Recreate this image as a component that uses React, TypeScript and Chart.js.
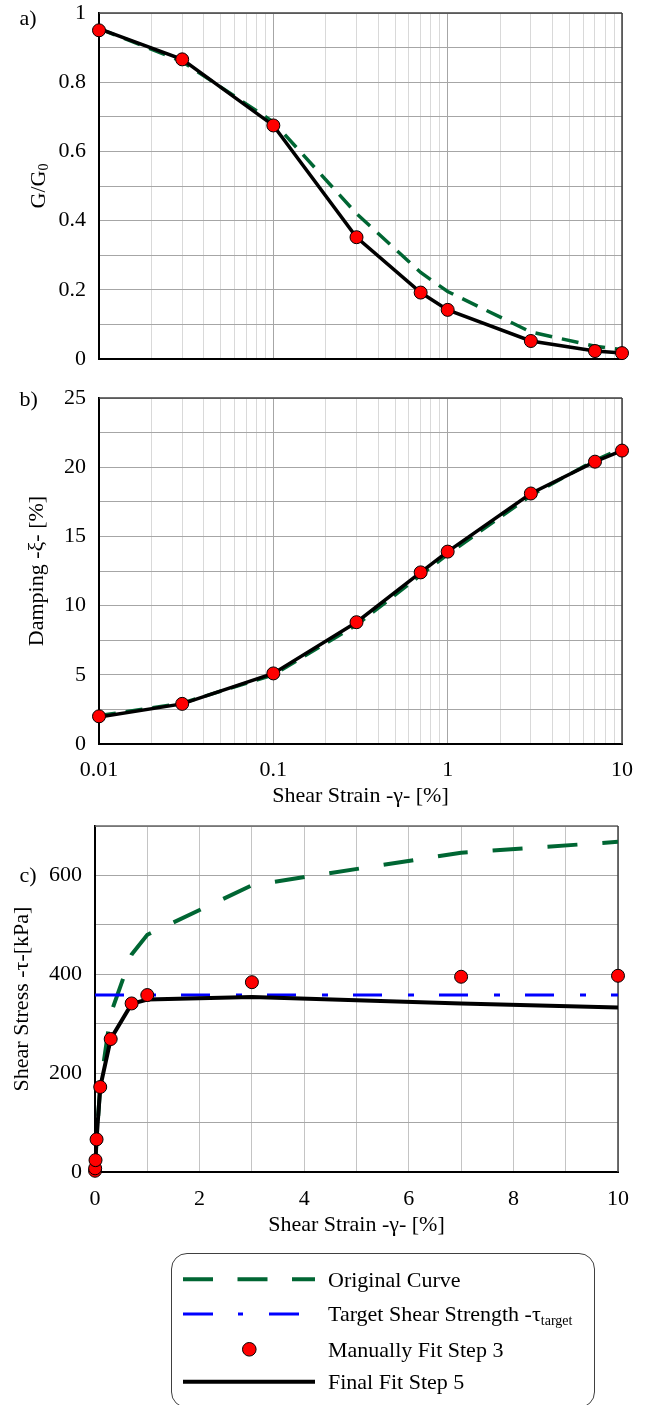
import React, { useEffect, useRef } from 'react';
import { Chart, registerables } from 'chart.js';

Chart.register(...registerables);

// ---- data -------------------------------------------------------------
// shear strain [%] at which the curves are defined
const strain = [0.01, 0.03, 0.1, 0.3, 0.7, 1, 3, 7, 10];

// a) modulus reduction G/G0
const originalModulus = [0.955, 0.86, 0.685, 0.42, 0.25, 0.195, 0.078, 0.037, 0.027];
const manualModulus = [0.95, 0.866, 0.675, 0.352, 0.192, 0.142, 0.052, 0.023, 0.017];
const finalModulus = [0.955, 0.866, 0.675, 0.352, 0.192, 0.142, 0.052, 0.023, 0.017];

// b) damping [%]
const originalDamping = [2.05, 2.95, 5.0, 8.6, 12.2, 13.7, 17.95, 20.5, 21.35];
const manualDamping = [2.0, 2.9, 5.1, 8.8, 12.4, 13.9, 18.1, 20.4, 21.2];
const finalDamping = [1.95, 2.9, 5.1, 8.8, 12.4, 13.9, 18.1, 20.4, 21.2];

// c) shear stress [kPa]
const stressStrain = [0.001, 0.003, 0.01, 0.03, 0.1, 0.3, 0.7, 1, 3, 7, 10];
const originalStress = [2.5, 7.5, 24, 65, 173, 320, 440, 480, 580, 646, 668];
const manualStress = [2.5, 7.5, 24, 66, 172, 269, 341, 358, 384, 395, 397];
const finalStress = [2.5, 7.5, 24, 66, 172, 269, 340, 349, 354, 341, 333];
const targetStrength = 358;
const targetStrainRange = [0, 10];

// axis ticks
const strainDecades = [0.01, 0.1, 1, 10];
const decadeMultipliers = [1, 2, 3, 4, 5, 6, 7, 8, 9];

// ---- styles -----------------------------------------------------------
const FONT = "'Liberation Serif', 'Times New Roman', serif";
const GREEN = '#006633';
const BLUE = '#0000ff';
const RED = '#ff0000';
const GRID_MAJOR = '#a6a6a6';
const GRID_MINOR = '#d9d9d9';
const FRAME = '#404040';

Chart.defaults.font.family = FONT;
Chart.defaults.font.size = 22;
Chart.defaults.color = '#000';

const logTickValues: number[] = [];
for (let i = 0; i < strainDecades.length - 1; i++) {
  for (const m of decadeMultipliers) {
    logTickValues.push(Number((m * strainDecades[i]).toPrecision(6)));
  }
}
logTickValues.push(strainDecades[strainDecades.length - 1]);

const pairs = (xs: number[], ys: number[]) => xs.map((x, i) => ({ x, y: ys[i] }));

type Part = { text: string; size: number; dy?: number };
type Note = { x: number; y: number; parts: Part[]; rotate?: number; center?: boolean };

// draws free text (panel letters, subscripted titles)
const notesPlugin = (items: Note[]) => ({
  id: 'notes',
  afterDraw(chart: any) {
    const ctx = chart.ctx;
    for (const item of items) {
      ctx.save();
      ctx.translate(item.x, item.y);
      if (item.rotate) ctx.rotate(item.rotate);
      ctx.fillStyle = '#000';
      ctx.textBaseline = 'alphabetic';
      ctx.textAlign = 'left';
      let total = 0;
      for (const p of item.parts) {
        ctx.font = `${p.size}px ${FONT}`;
        total += ctx.measureText(p.text).width;
      }
      let dx = item.center ? -total / 2 : 0;
      for (const p of item.parts) {
        ctx.font = `${p.size}px ${FONT}`;
        ctx.fillText(p.text, dx, p.dy || 0);
        dx += ctx.measureText(p.text).width;
      }
      ctx.restore();
    }
  },
});

// top and right edges of the plot frame
const framePlugin = (topColor: string, rightColor: string) => ({
  id: 'frame',
  beforeDatasetsDraw(chart: any) {
    const { ctx, chartArea } = chart;
    const { left, top, right, bottom } = chartArea;
    ctx.save();
    ctx.lineWidth = 1.5;
    ctx.strokeStyle = topColor;
    ctx.beginPath();
    ctx.moveTo(left, top);
    ctx.lineTo(right, top);
    ctx.stroke();
    ctx.strokeStyle = rightColor;
    ctx.beginPath();
    ctx.moveTo(right, top);
    ctx.lineTo(right, bottom);
    ctx.stroke();
    ctx.restore();
  },
});

// fixed axis box sizes; the plot area is laid out by the layout padding alone
const fixHeight = (h: number) => (s: any) => {
  s.height = h;
  s.paddingLeft = 0;
  s.paddingRight = 0;
};
const fixWidth = (w: number) => (s: any) => {
  s.width = w;
  s.paddingTop = 0;
  s.paddingBottom = 0;
};

const markerSet = (data: { x: number; y: number }[], r: number) => ({
  data,
  showLine: false,
  pointRadius: r,
  pointBackgroundColor: RED,
  pointBorderColor: '#000',
  pointBorderWidth: 1,
  clip: false as const,
});

const lineSet = (data: { x: number; y: number }[], color: string, width: number, dash: number[] = []) => ({
  data,
  showLine: true,
  borderColor: color,
  borderWidth: width,
  borderDash: dash,
  pointRadius: 0,
  fill: false,
  tension: 0,
});

const isDecade = (v: number) => Math.abs(Math.log10(v) - Math.round(Math.log10(v))) < 1e-9;

const strainAxis = (showLabels: boolean, axisHeight: number, titlePadBottom: number) => ({
  type: 'logarithmic' as const,
  min: strainDecades[0],
  max: strainDecades[strainDecades.length - 1],
  afterBuildTicks: (s: any) => {
    s.ticks = logTickValues.map((value) => ({ value }));
  },
  afterFit: fixHeight(axisHeight),
  grid: {
    color: (c: any) => (c.tick && isDecade(c.tick.value) ? GRID_MAJOR : GRID_MINOR),
    drawTicks: false,
    lineWidth: 1,
  },
  border: { color: '#000', width: 2 },
  ticks: {
    display: showLabels,
    autoSkip: false,
    maxRotation: 0,
    minRotation: 0,
    padding: 13,
    callback: (v: any) => (strainDecades.some((d) => Math.abs(d - Number(v)) < 1e-12) ? String(v) : ''),
  },
  title: {
    display: showLabels,
    text: 'Shear Strain -γ- [%]',
    padding: { top: 0, bottom: titlePadBottom },
  },
});

const baseOptions = (padding: any) => ({
  animation: false as const,
  responsive: false,
  devicePixelRatio: 1,
  events: [] as any[],
  layout: { padding },
  plugins: { legend: { display: false }, tooltip: { enabled: false } },
});

export default function App() {
  const refA = useRef<HTMLCanvasElement>(null);
  const refB = useRef<HTMLCanvasElement>(null);
  const refC = useRef<HTMLCanvasElement>(null);

  useEffect(() => {
    document.body.style.margin = '0';

    const chartA = new Chart(refA.current as HTMLCanvasElement, {
      type: 'scatter',
      data: {
        datasets: [
          markerSet(pairs(strain, manualModulus), 6.5),
          lineSet(pairs(strain, finalModulus), '#000', 3.5),
          lineSet(pairs(strain, originalModulus), GREEN, 3.5, [17, 10]),
        ],
      },
      options: {
        ...baseOptions({ left: 0, right: 28, top: 13, bottom: 0 }),
        scales: {
          x: strainAxis(false, 21, 0),
          y: {
            min: 0,
            max: 1,
            afterFit: fixWidth(99),
            grid: { color: GRID_MAJOR, drawTicks: false },
            border: { color: '#000', width: 2 },
            ticks: {
              stepSize: 0.1,
              padding: 13,
              callback: (v: any) => {
                const n = Math.round(Number(v) * 10);
                return n % 2 === 0 ? String(n / 10) : '';
              },
            },
          },
        },
      } as any,
      plugins: [
        framePlugin(FRAME, FRAME),
        notesPlugin([
          { x: 19.5, y: 25, parts: [{ text: 'a)', size: 22 }] },
          {
            x: 45,
            y: 186,
            rotate: -Math.PI / 2,
            center: true,
            parts: [
              { text: 'G/G', size: 22 },
              { text: '0', size: 14, dy: 3 },
            ],
          },
        ]),
      ],
    });

    const chartB = new Chart(refB.current as HTMLCanvasElement, {
      type: 'scatter',
      data: {
        datasets: [
          markerSet(pairs(strain, manualDamping), 6.5),
          lineSet(pairs(strain, finalDamping), '#000', 3.5),
          lineSet(pairs(strain, originalDamping), GREEN, 3.5, [17, 10]),
        ],
      },
      options: {
        ...baseOptions({ left: 0, right: 28, top: 18, bottom: 0 }),
        scales: {
          x: strainAxis(true, 76, 10.8),
          y: {
            min: 0,
            max: 25,
            afterFit: fixWidth(99),
            grid: { color: GRID_MAJOR, drawTicks: false },
            border: { color: '#000', width: 2 },
            ticks: {
              stepSize: 2.5,
              padding: 13,
              callback: (v: any) => (Number(v) % 5 === 0 ? String(v) : ''),
            },
            title: {
              display: true,
              text: 'Damping -ξ- [%]',
              padding: { top: 24, bottom: 0 },
            },
          },
        },
      } as any,
      plugins: [framePlugin(FRAME, FRAME), notesPlugin([{ x: 19.5, y: 26, parts: [{ text: 'b)', size: 22 }] }])],
    });

    const chartC = new Chart(refC.current as HTMLCanvasElement, {
      type: 'scatter',
      data: {
        datasets: [
          markerSet(pairs(stressStrain, manualStress), 6.5),
          lineSet(pairs(stressStrain, finalStress), '#000', 4),
          lineSet(
            targetStrainRange.map((x) => ({ x, y: targetStrength })),
            BLUE,
            3,
            [29, 26, 6, 25]
          ),
          lineSet(pairs(stressStrain, originalStress), GREEN, 4, [30, 25]),
        ],
      },
      options: {
        ...baseOptions({ left: 0, right: 32, top: 26, bottom: 0 }),
        scales: {
          x: {
            type: 'linear',
            min: 0,
            max: 10,
            afterFit: fixHeight(78),
            grid: { color: '#c4c4c4', drawTicks: false },
            border: { color: '#000', width: 2 },
            ticks: {
              stepSize: 1,
              padding: 13.8,
              maxRotation: 0,
              autoSkip: false,
              callback: (v: any) => (Number(v) % 2 === 0 ? String(v) : ''),
            },
            title: {
              display: true,
              text: 'Shear Strain -γ- [%]',
              padding: { top: 0, bottom: 11.3 },
            },
          },
          y: {
            min: 0,
            max: 700,
            afterFit: fixWidth(95),
            grid: { color: GRID_MAJOR, drawTicks: false },
            border: { color: '#000', width: 2 },
            ticks: {
              stepSize: 100,
              padding: 13,
              callback: (v: any) => (Number(v) % 200 === 0 ? String(v) : ''),
            },
            title: {
              display: true,
              text: 'Shear Stress -τ-[kPa]',
              padding: { top: 9.3, bottom: 0 },
            },
          },
        },
      } as any,
      plugins: [framePlugin('#666666', FRAME), notesPlugin([{ x: 19.5, y: 82, parts: [{ text: 'c)', size: 22 }] }])],
    });

    return () => {
      chartA.destroy();
      chartB.destroy();
      chartC.destroy();
    };
  }, []);

  const legendText: React.CSSProperties = {
    position: 'absolute',
    left: 328,
    fontSize: 22,
    lineHeight: '22px',
    whiteSpace: 'nowrap',
    color: '#000',
    fontFamily: FONT,
  };

  return (
    <div
      style={{
        position: 'fixed',
        left: 0,
        top: 0,
        width: 650,
        height: 1405,
        overflow: 'hidden',
        background: '#fff',
        fontFamily: FONT,
      }}
    >
      <canvas ref={refA} width={650} height={380} style={{ position: 'absolute', left: 0, top: 0 }} />
      <canvas ref={refB} width={650} height={440} style={{ position: 'absolute', left: 0, top: 380 }} />
      <canvas ref={refC} width={650} height={450} style={{ position: 'absolute', left: 0, top: 800 }} />

      {/* legend */}
      <div
        style={{
          position: 'absolute',
          left: 171,
          top: 1253,
          width: 424,
          height: 155,
          border: '1px solid #404040',
          borderRadius: 16,
          boxSizing: 'border-box',
        }}
      />
      <svg width={650} height={165} style={{ position: 'absolute', left: 0, top: 1240 }}>
        <line x1={183} x2={315} y1={39.3} y2={39.3} stroke={GREEN} strokeWidth={4} strokeDasharray="30 24.5" />
        <line x1={183} x2={315} y1={74} y2={74} stroke={BLUE} strokeWidth={3} strokeDasharray="30 25 5 26" />
        <circle cx={249.3} cy={109.3} r={6.8} fill={RED} stroke="#000" strokeWidth={1} />
        <line x1={183} x2={315} y1={141.7} y2={141.7} stroke="#000" strokeWidth={4} />
      </svg>
      <div style={{ ...legendText, top: 1268.6 }}>Original Curve</div>
      <div style={{ ...legendText, top: 1303.1 }}>
        Target Shear Strength -τ
        <span style={{ fontSize: 14, position: 'relative', top: 4 }}>target</span>
      </div>
      <div style={{ ...legendText, top: 1338.6 }}>Manually Fit Step 3</div>
      <div style={{ ...legendText, top: 1370.6 }}>Final Fit Step 5</div>
    </div>
  );
}
